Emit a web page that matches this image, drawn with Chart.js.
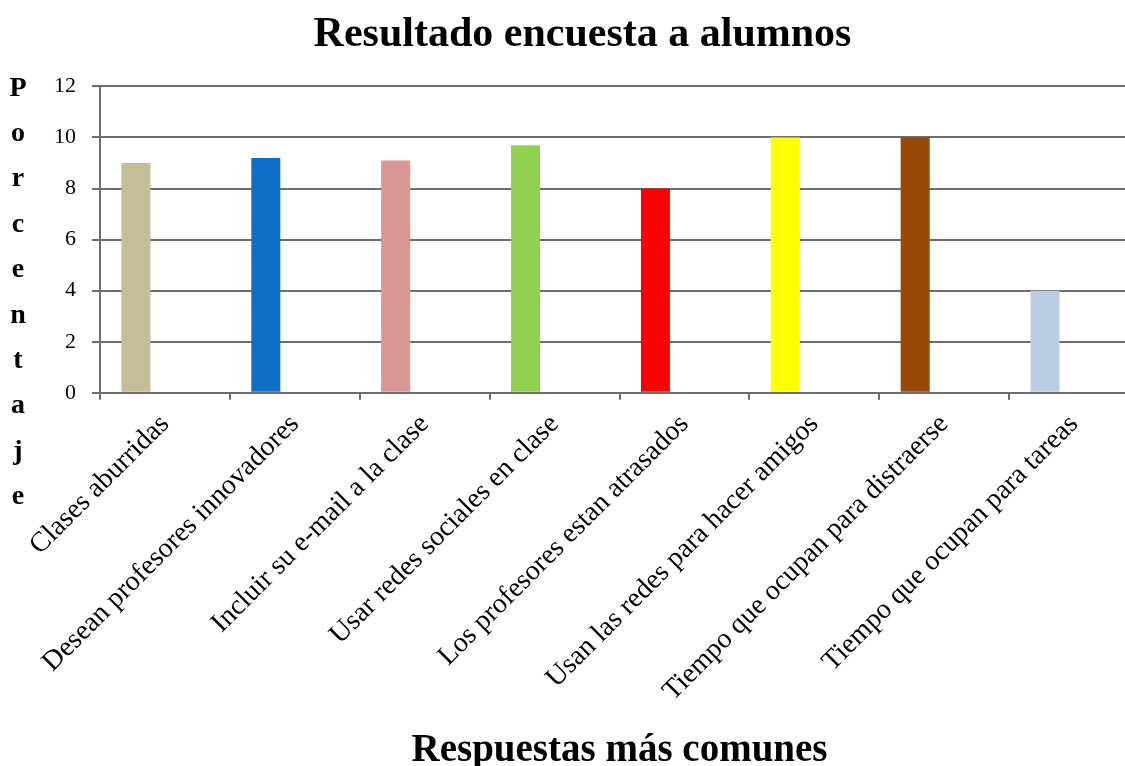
<!DOCTYPE html>
<html>
<head>
<meta charset="utf-8">
<script src="https://cdn.jsdelivr.net/npm/chart.js@4"></script>
<style>
  html, body { margin: 0; padding: 0; background: #fff; overflow: hidden; }
  #wrap { width: 1140px; height: 766px; }
</style>
</head>
<body>
<div id="wrap"><canvas id="grafico"></canvas></div>
<script>
// Datos de la encuesta
const categorias = [
    'Clases aburridas',
    'Desean profesores innovadores',
    'Incluir su e-mail a la clase',
    'Usar redes sociales en clase',
    'Los profesores estan atrasados',
    'Usan las redes para hacer amigos',
    'Tiempo que ocupan para distraerse',
    'Tiempo que ocupan para tareas'
];
const porcentajes = [9, 9.2, 9.1, 9.7, 8, 10, 10, 4];
// series 2 y 3 vacías (el gráfico original las reserva)
const serie2 = [];
const serie3 = [];
const colores = ['#C4BD97', '#0F6FC6', '#D99694', '#92D050', '#FF0000', '#FFFF00', '#984807', '#B9CDE5'];
const tituloEjeY = 'Porcentaje';
const ejeYMin = 0, ejeYMax = 12, ejeYPaso = 2;

const fuente = "'Liberation Serif', 'Times New Roman', serif";
const gris = '#6e6e6e';

// Título vertical letra por letra
const letrasEjeY = {
    id: 'letrasEjeY',
    afterDraw(chart) {
        const ctx = chart.ctx;
        const top = chart.chartArea.top;
        ctx.save();
        ctx.font = 'bold 28px ' + fuente;
        ctx.fillStyle = '#000';
        ctx.textAlign = 'center';
        ctx.textBaseline = 'middle';
        tituloEjeY.split('').forEach((letra, i) => {
            ctx.fillText(letra, 18, top + 2 + i * 45.4);
        });
        ctx.restore();
    }
};

const ctx = document.getElementById('grafico').getContext('2d');
new Chart(ctx, {
    type: 'bar',
    data: {
        labels: categorias,
        datasets: [
            { label: 'Serie 1', data: porcentajes, backgroundColor: colores },
            { label: 'Serie 2', data: serie2 },
            { label: 'Serie 3', data: serie3 }
        ]
    },
    options: {
        responsive: true,
        maintainAspectRatio: false,
        animation: false,
        categoryPercentage: 0.67,
        barPercentage: 1.0,
        layout: { padding: { left: 26, right: 1, top: 4, bottom: 0 } },
        plugins: {
            legend: { display: false },
            tooltip: { enabled: false },
            title: {
                display: true,
                text: 'Resultado encuesta a alumnos',
                color: '#000',
                font: { family: fuente, size: 42, weight: 'bold' },
                padding: { top: 6, bottom: 26 }
            }
        },
        scales: {
            y: {
                min: ejeYMin,
                max: ejeYMax,
                afterFit(scale) { scale.width += 12; },
                ticks: {
                    stepSize: ejeYPaso,
                    color: '#000',
                    padding: 16,
                    font: { family: fuente, size: 22 }
                },
                grid: { color: gris, lineWidth: 2, tickLength: 8, tickColor: gris },
                border: { display: true, color: gris, width: 2 }
            },
            x: {
                ticks: {
                    color: '#000',
                    minRotation: 45,
                    maxRotation: 45,
                    padding: 8,
                    font: { family: fuente, size: 28 }
                },
                grid: { drawOnChartArea: false, color: gris, lineWidth: 2, tickLength: 7 },
                border: { display: true, color: gris, width: 2 },
                title: {
                    display: true,
                    text: 'Respuestas más comunes',
                    color: '#000',
                    font: { family: fuente, size: 39, weight: 'bold', lineHeight: 1 },
                    padding: { top: 15, bottom: -4 }
                }
            }
        }
    },
    plugins: [letrasEjeY]
});
</script>
</body>
</html>
